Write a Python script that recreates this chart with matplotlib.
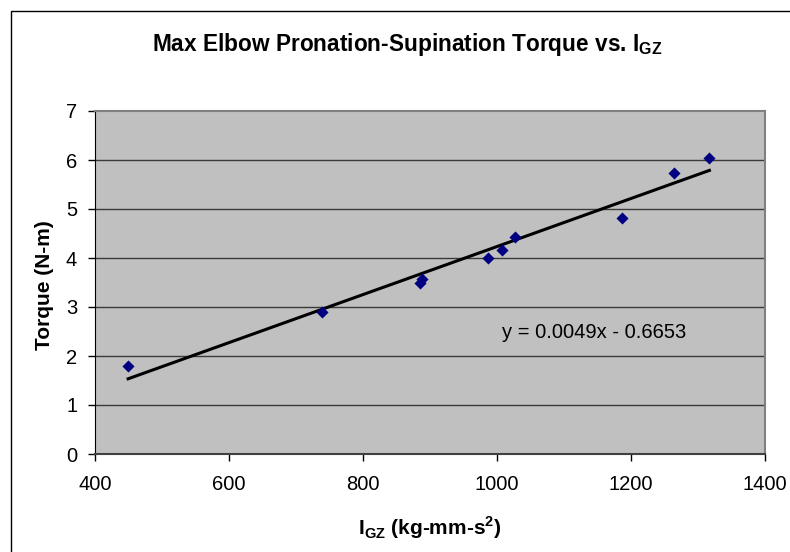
import matplotlib
matplotlib.use("Agg")
import matplotlib.pyplot as plt
from matplotlib.patches import Rectangle
import numpy as np

plt.rcParams['font.family'] = ['Liberation Sans', 'DejaVu Sans']

# Data
igz = [449, 738, 885, 888, 986, 1007, 1027, 1186, 1264, 1317]
torque = [1.80, 2.89, 3.48, 3.58, 4.00, 4.17, 4.42, 4.81, 5.74, 6.05]
slope = 0.0049
intercept = -0.6653
x_ticks = [400, 600, 800, 1000, 1200, 1400]
y_ticks = [0, 1, 2, 3, 4, 5, 6, 7]
title = 'Max Elbow Pronation-Supination Torque vs. I$_\\mathregular{GZ}$'
xlabel = 'I$_\\mathregular{GZ}$ (kg-mm-s$^\\mathregular{2}$)'
ylabel = 'Torque (N-m)'
eq_text = 'y = 0.0049x - 0.6653'

W, H = 790, 552
fig = plt.figure(figsize=(W / 100, H / 100), dpi=100)
fig.patch.set_facecolor('white')

# outer chart border (cut off at right/bottom)
fig.patches.append(Rectangle((11 / W, -0.1), 2.0, (H - 11) / H + 0.1,
                             transform=fig.transFigure, fill=False,
                             edgecolor='black', linewidth=1.0))

left, right = 95.3 / W, 765 / W
bottom, top = (H - 454) / H, (H - 111) / H
ax = fig.add_axes([left, bottom, right - left, top - bottom])
ax.set_facecolor('#C0C0C0')

ax.set_xlim(400, 1400)
ax.set_ylim(0, 7)
ax.set_xticks(x_ticks)
ax.set_yticks(y_ticks)
ax.tick_params(axis='both', direction='out', length=5, width=1,
               labelsize=14.5, colors='black')
ax.tick_params(axis='x', pad=10)
ax.tick_params(axis='y', pad=8)

for y in y_ticks[1:-1]:
    ax.axhline(y, color='#3a3a3a', linewidth=1.0, zorder=1)

for s in ['top', 'right']:
    ax.spines[s].set_color('#808080')
    ax.spines[s].set_linewidth(1.5)
ax.spines['left'].set_color('black')
ax.spines['bottom'].set_color('#404040')
ax.spines['bottom'].set_linewidth(1.5)

# trendline
xs = np.array([min(igz), max(igz)])
ax.plot(xs, slope * xs + intercept, color='black', linewidth=2.2, zorder=2)

ax.scatter(igz, torque, marker='D', s=38, color='#000080', zorder=3,
           linewidths=0)

ax.text(1008, 2.47, eq_text, fontsize=14.5, va='center', ha='left')

fig.text(0.5 * (150 + 665) / W, 1 - 45 / H, title, fontsize=16.3,
         fontweight='bold', ha='center', va='center')
fig.text(430 / W, 1 - 528 / H, xlabel, fontsize=15, fontweight='bold',
         ha='center', va='center')
fig.text(44 / W, 1 - 285 / H, ylabel, fontsize=15, fontweight='bold',
         ha='center', va='center', rotation=90)

fig.savefig('out.png', dpi=100)
